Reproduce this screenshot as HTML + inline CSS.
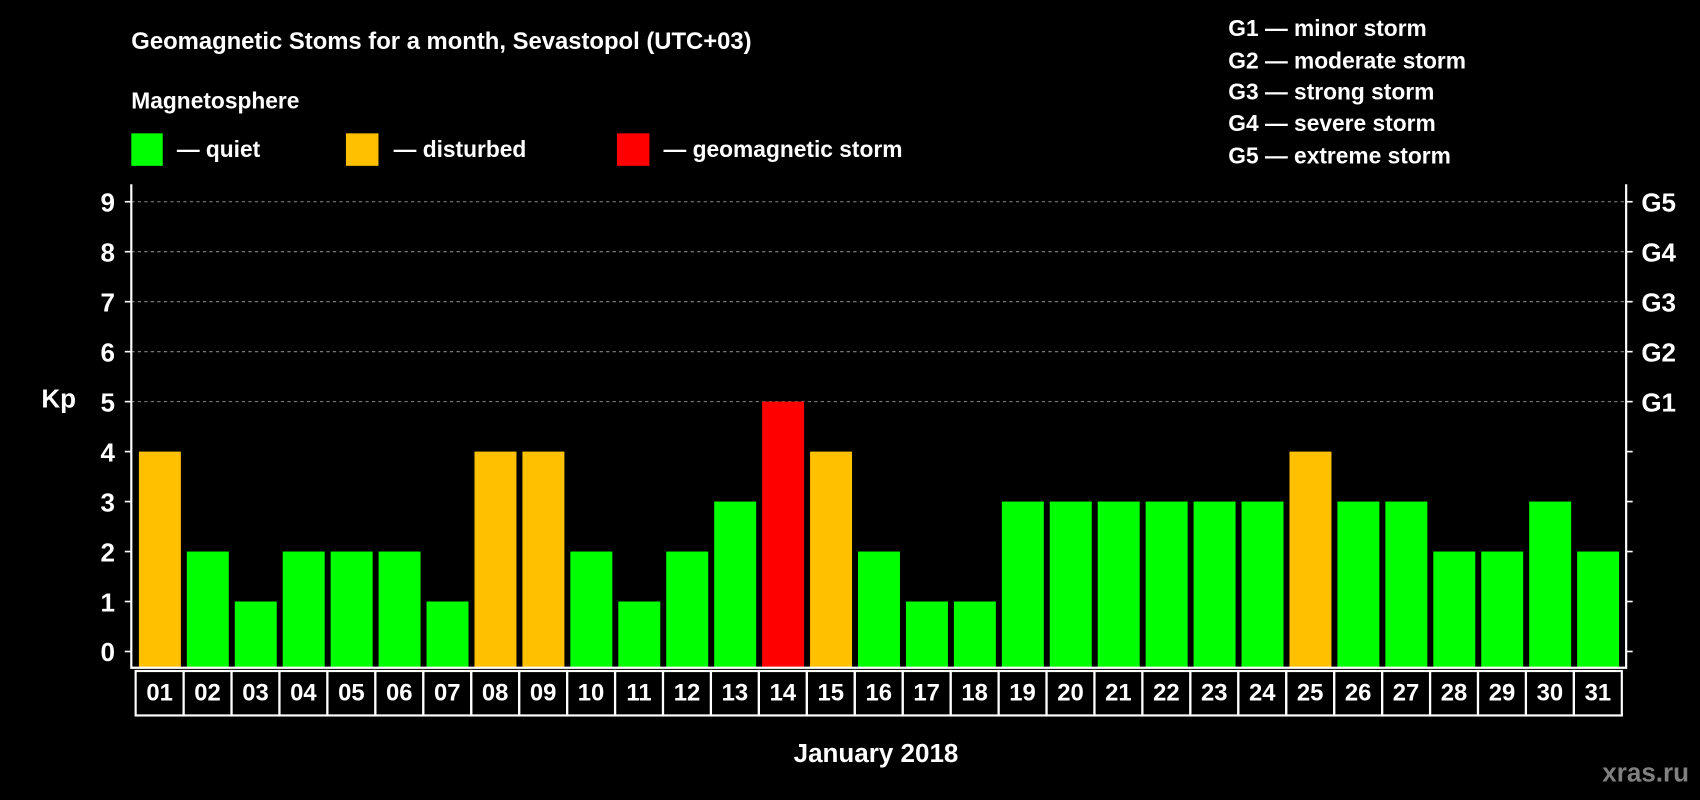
<!DOCTYPE html>
<html><head><meta charset="utf-8"><style>html,body{margin:0;padding:0;background:#000;}svg{display:block;font-family:"Liberation Sans",Arial,sans-serif;font-weight:bold;}</style></head>
<body>
<svg id="chart" width="1700" height="800" viewBox="0 0 1568 738" xmlns="http://www.w3.org/2000/svg">
<rect width="1568" height="738" fill="#000"/>
<text x="121" y="45" fill="#fff" font-size="22">Geomagnetic Stoms for a month, Sevastopol (UTC+03)</text>
<text x="121" y="100" fill="#fff" font-size="21">Magnetosphere</text>
<g><rect x="121" y="123" width="29" height="30" fill="#00ff00"/><text x="163" y="145" fill="#fff" font-size="21">— quiet</text></g>
<g><rect x="319" y="123" width="30" height="30" fill="#ffc000"/><text x="363" y="145" fill="#fff" font-size="21">— disturbed</text></g>
<g><rect x="569" y="123" width="30" height="30" fill="#ff0000"/><text x="612" y="145" fill="#fff" font-size="21">— geomagnetic storm</text></g>
<g fill="#fff" font-size="21">
<text x="1133" y="33">G1 — minor storm</text>
<text x="1133" y="63">G2 — moderate storm</text>
<text x="1133" y="92">G3 — strong storm</text>
<text x="1133" y="121">G4 — severe storm</text>
<text x="1133" y="151">G5 — extreme storm</text>
</g>
<text x="38" y="376" fill="#fff" font-size="24">Kp</text>
<text x="808" y="703" fill="#fff" font-size="24" text-anchor="middle">January 2018</text>
<text x="1558" y="721" fill="#808080" font-size="24" text-anchor="end">xras.ru</text>
<g id="grid"></g><g id="bars"></g><g id="axes"></g>
</svg>
<script>
const days=["01","02","03","04","05","06","07","08","09","10","11","12","13","14","15","16","17","18","19","20","21","22","23","24","25","26","27","28","29","30","31"];
const kpValues=[4,2,1,2,2,2,1,4,4,2,1,2,3,5,4,2,1,1,3,3,3,3,3,3,4,3,3,2,2,3,2];
const yTicks=[0,1,2,3,4,5,6,7,8,9];
const gLabels=["","","","","","G1","G2","G3","G4","G5"];
const NS="http://www.w3.org/2000/svg";
const L=121,R=1500,B=616,cellL=125,cellR=1496;
const cw=(cellR-cellL)/days.length;
function y(v){return 601-46.1*v;}
function x(i){return cellL+i*cw;}
function mk(tag,attrs,parent,text){const e=document.createElementNS(NS,tag);for(const k in attrs)e.setAttribute(k,attrs[k]);if(text!==undefined)e.textContent=text;parent.appendChild(e);return e;}
const grid=document.getElementById('grid'),bars=document.getElementById('bars'),axes=document.getElementById('axes');
function color(v){return v>=5?"#ff0000":(v>=4?"#ffc000":"#00ff00");}
yTicks.forEach((t,i)=>{
  if(gLabels[i]){const g=mk('line',{x1:L,x2:R,y1:y(t),y2:y(t),stroke:"#888","stroke-dasharray":"3,3","stroke-width":1},grid);
  
  }
  const tl=mk('line',{x1:L-6,x2:L,y1:y(t),y2:y(t),stroke:"#fff","stroke-width":1.5},axes);
  
  
  const tr=mk('line',{x1:R,x2:R+6,y1:y(t),y2:y(t),stroke:"#fff","stroke-width":1.5},axes);
  
  
  const lab=mk('text',{x:106,y:y(t)+9,fill:"#fff","font-size":24,"text-anchor":"end"},axes,String(t));
  
  
  if(gLabels[i]){const gl=mk('text',{x:1514,y:y(t)+9,fill:"#fff","font-size":24},axes,gLabels[i]);
  
  }
});
kpValues.forEach((v,i)=>{
  const r=mk('rect',{x:x(i)+3,y:y(v),width:cw-5.5,height:B-y(v),fill:color(v)},bars);
  
  
  const c=mk('rect',{x:x(i),y:B+3,width:cw,height:41,fill:"none",stroke:"#fff","stroke-width":2},axes);
  
  
  const t=mk('text',{x:x(i)+cw/2,y:646,fill:"#fff","font-size":22,"text-anchor":"middle"},axes,days[i]);
  
  
});
const ax=mk('path',{d:`M${L},170 V${B} H${R} V170`,fill:"none",stroke:"#fff","stroke-width":2},axes);


</script>
</body></html>
